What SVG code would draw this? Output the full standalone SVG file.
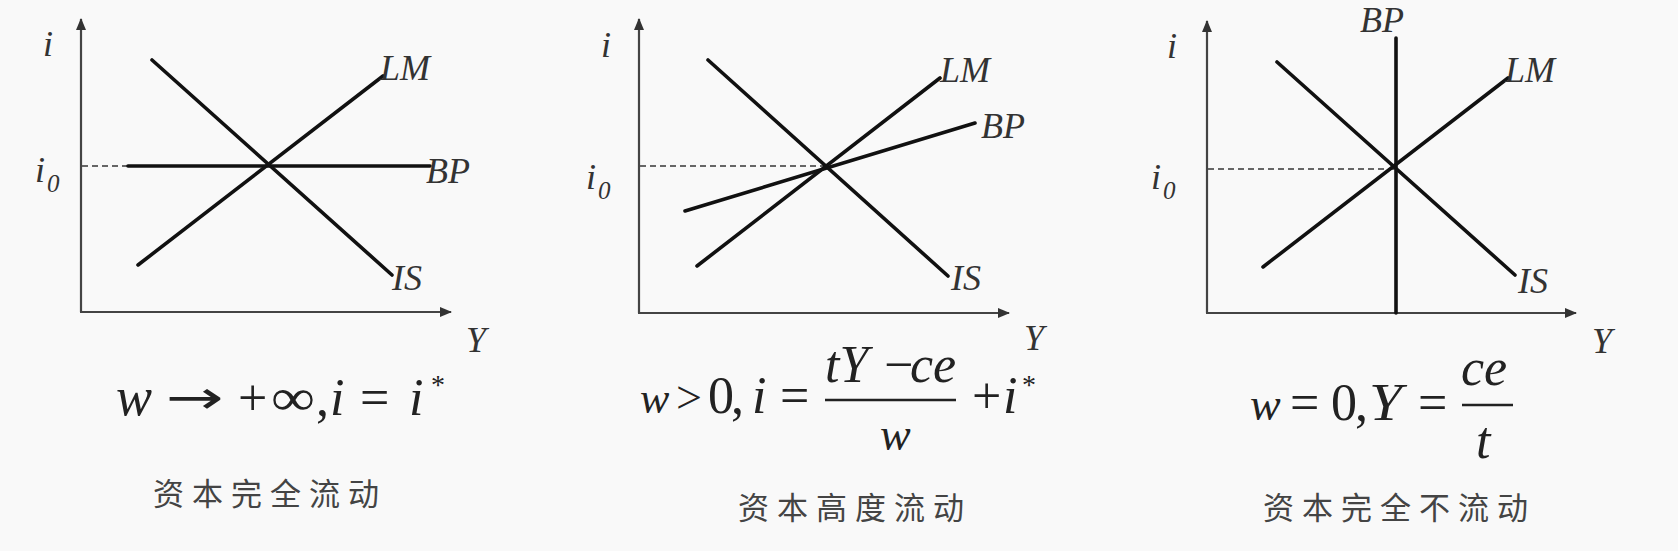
<svg xmlns="http://www.w3.org/2000/svg" width="1678" height="551" viewBox="0 0 1678 551">
<defs>
<marker id="arr" viewBox="0 0 12 10" refX="11" refY="5" markerWidth="12" markerHeight="10" markerUnits="userSpaceOnUse" orient="auto">
<path d="M0,0 L12,5 L0,10 Z" fill="#333"/>
</marker>
<style>
.ax{stroke:#444;stroke-width:2.2;fill:none}
.cv{stroke:#111;stroke-width:3.6;fill:none;stroke-linecap:round}
.ds{stroke:#666;stroke-width:1.8;stroke-dasharray:6 4;fill:none}
.lb{font-style:italic;font-size:36px;fill:#333}
.sb{font-style:italic;font-size:25px;fill:#333}
.fm{font-size:52px;fill:#222}
.it{font-style:italic}
.st{font-size:28px;fill:#222}
.bar{stroke:#222;stroke-width:2.6}
.cap{font-size:31px;fill:#444;letter-spacing:8px}
</style>
</defs>
<rect width="1678" height="551" fill="#f9f9f9"/>

<g id="panel1" font-family="Liberation Serif, Times New Roman, serif">
<g id="p1-axes">
<line class="ax" x1="81" y1="312" x2="81" y2="19" marker-end="url(#arr)"/>
<line class="ax" x1="80" y1="312" x2="451" y2="312" marker-end="url(#arr)"/>
</g>
<g id="p1-curves">
<line class="ds" x1="82" y1="166" x2="128" y2="166"/>
<line class="cv" x1="128" y1="166" x2="430" y2="166"/>
<line class="cv" x1="152" y1="60" x2="392" y2="275"/>
<line class="cv" x1="138" y1="265" x2="383" y2="76"/>
</g>
<g id="p1-labels">
<text class="lb" x="43" y="56">i</text>
<text class="lb" x="35" y="182">i</text><text class="sb" x="47" y="192">0</text>
<text class="lb" x="380" y="80">LM</text>
<text class="lb" x="426" y="183">BP</text>
<text class="lb" x="392" y="290">IS</text>
<text class="lb" x="466" y="352">Y</text>
</g>
<g id="p1-formula">
<text class="fm it" x="116" y="415" style="font-size:54px">w</text>
<text class="fm" x="166" y="413" font-family="DejaVu Sans, sans-serif" style="font-size:46px" textLength="58" lengthAdjust="spacingAndGlyphs">→</text>
<text class="fm" x="238" y="415">+</text>
<text class="fm" x="271" y="415" textLength="44" lengthAdjust="spacingAndGlyphs">∞</text>
<text class="fm" x="316" y="415">,</text>
<text class="fm it" x="330" y="415">i</text>
<text class="fm" x="360" y="415">=</text>
<text class="fm it" x="409" y="415">i</text>
<text class="st" x="431" y="394">*</text>
</g>
<text id="p1-caption" class="cap" x="153" y="505" font-family="Noto Sans CJK SC, sans-serif">资本完全流动</text>
</g>

<g id="panel2" font-family="Liberation Serif, Times New Roman, serif">
<g id="p2-axes">
<line class="ax" x1="639" y1="313" x2="639" y2="19" marker-end="url(#arr)"/>
<line class="ax" x1="638" y1="313" x2="1009" y2="313" marker-end="url(#arr)"/>
</g>
<g id="p2-curves">
<line class="ds" x1="640" y1="166" x2="826" y2="166"/>
<line class="cv" x1="685" y1="211" x2="975" y2="123"/>
<line class="cv" x1="708" y1="60" x2="948" y2="276"/>
<line class="cv" x1="697" y1="266" x2="940" y2="78"/>
</g>
<g id="p2-labels">
<text class="lb" x="601" y="57">i</text>
<text class="lb" x="586" y="189">i</text><text class="sb" x="598" y="199">0</text>
<text class="lb" x="940" y="82">LM</text>
<text class="lb" x="981" y="138">BP</text>
<text class="lb" x="951" y="290">IS</text>
<text class="lb" x="1024" y="350">Y</text>
</g>
<g id="p2-formula">
<text class="fm it" x="640" y="413" style="font-size:44px">w</text>
<text class="fm" x="676" y="413" style="font-size:46px">&gt;</text>
<text class="fm" x="708" y="413">0</text>
<text class="fm" x="731" y="413">,</text>
<text class="fm it" x="752" y="413">i</text>
<text class="fm" x="780" y="413">=</text>
<text class="fm it" x="825" y="382">tY</text>
<text class="fm" x="884" y="382">−</text>
<text class="fm it" x="910" y="382">ce</text>
<line class="bar" x1="825" y1="400" x2="956" y2="400"/>
<text class="fm it" x="880" y="450" style="font-size:46px">w</text>
<text class="fm" x="972" y="413">+</text>
<text class="fm it" x="1003" y="413">i</text>
<text class="st" x="1022" y="394">*</text>
</g>
<text id="p2-caption" class="cap" x="738" y="519" font-family="Noto Sans CJK SC, sans-serif">资本高度流动</text>
</g>

<g id="panel3" font-family="Liberation Serif, Times New Roman, serif">
<g id="p3-axes">
<line class="ax" x1="1207" y1="313" x2="1207" y2="21" marker-end="url(#arr)"/>
<line class="ax" x1="1206" y1="313" x2="1576" y2="313" marker-end="url(#arr)"/>
</g>
<g id="p3-curves">
<line class="ds" x1="1208" y1="169" x2="1395" y2="169"/>
<line class="cv" x1="1396" y1="38" x2="1396" y2="313"/>
<line class="cv" x1="1277" y1="62" x2="1515" y2="275"/>
<line class="cv" x1="1263" y1="267" x2="1508" y2="78"/>
</g>
<g id="p3-labels">
<text class="lb" x="1167" y="58">i</text>
<text class="lb" x="1151" y="189">i</text><text class="sb" x="1163" y="199">0</text>
<text class="lb" x="1360" y="32">BP</text>
<text class="lb" x="1505" y="82">LM</text>
<text class="lb" x="1518" y="293">IS</text>
<text class="lb" x="1592" y="353">Y</text>
</g>
<g id="p3-formula">
<text class="fm it" x="1250" y="420" style="font-size:46px">w</text>
<text class="fm" x="1290" y="420">=</text>
<text class="fm" x="1331" y="420">0</text>
<text class="fm" x="1355" y="420">,</text>
<text class="fm it" x="1369" y="420" textLength="33" lengthAdjust="spacingAndGlyphs">Y</text>
<text class="fm" x="1418" y="420">=</text>
<text class="fm it" x="1461" y="385">ce</text>
<line class="bar" x1="1462" y1="405" x2="1513" y2="405"/>
<text class="fm it" x="1476" y="458">t</text>
</g>
<text id="p3-caption" class="cap" x="1263" y="519" font-family="Noto Sans CJK SC, sans-serif">资本完全不流动</text>
</g>
</svg>
